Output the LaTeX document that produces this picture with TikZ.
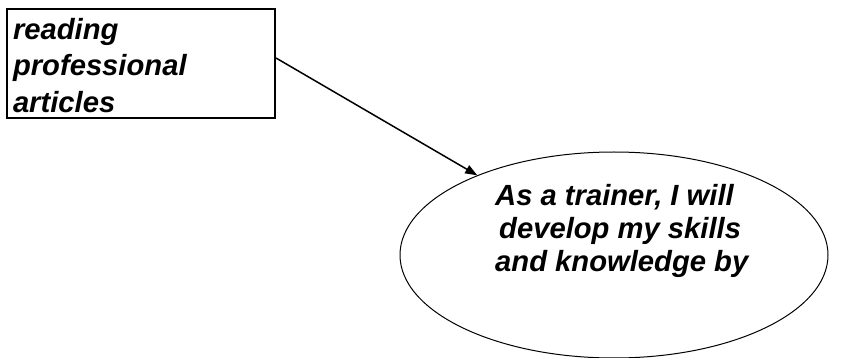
\documentclass[tikz,border=0pt]{standalone}
\usepackage{fontspec}
\setmainfont{Liberation Sans}
\usetikzlibrary{arrows.meta,shapes.geometric}
\begin{document}
\begin{tikzpicture}[x=1pt,y=1pt,
  boxstyle/.style={draw, line width=2pt, rectangle, minimum width=268pt, minimum height=109pt,
    inner sep=0pt, text width=256pt, align=left,
    font=\fontsize{29.2}{36.5}\selectfont\bfseries\itshape},
  ovalstyle/.style={draw, ellipse, line width=1pt, minimum width=428pt, minimum height=206pt, inner sep=0pt},
  ovaltext/.style={inner sep=0pt, anchor=west, align=left,
    font=\fontsize{29.2}{33}\selectfont\bfseries\itshape},
  link/.style={line width=1.5pt, -{Triangle[length=12pt,width=9pt]}}]
\useasboundingbox (0,0) rectangle (863,-358);
% activity box (the strut on the first line nudges the block down a little)
\node[boxstyle] (box) at (141,-63.5) {\rule{0pt}{25pt}reading\\professional\\articles};
% central goal
\node[ovalstyle] (ell) at (614,-255) {};
\node[ovaltext] (elltext) at (495,-231) {As a trainer, I will\\\hspace*{4pt}develop my skills\\and knowledge by};
% connector
\draw[link] ([yshift=5.5pt]box.east) -- (ell);
\end{tikzpicture}
\end{document}
